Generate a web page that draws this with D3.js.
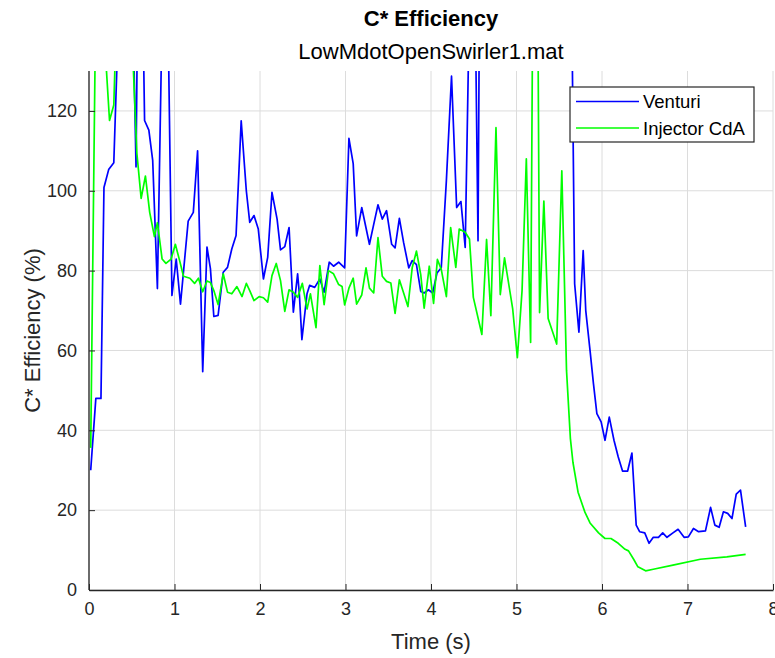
<!DOCTYPE html>
<html>
<head>
<meta charset="utf-8">
<script src="https://cdn.jsdelivr.net/npm/d3@7"></script>
<style>
  body { margin: 0; background: #fff; }
  svg { display: block; font-family: "Liberation Sans", Arial, Helvetica, sans-serif; }
</style>
</head>
<body>
<svg id="chart" width="775" height="658"></svg>
<script>
// ---- data ----
const venturiTime = [0.02,0.08,0.14,0.175,0.23,0.29,0.34,0.40,0.45,0.50,0.55,0.57,0.62,0.65,0.70,0.745,0.80,0.86,0.92,0.97,1.02,1.07,1.16,1.22,1.27,1.33,1.38,1.42,1.46,1.51,1.57,1.62,1.67,1.72,1.78,1.84,1.88,1.93,1.98,2.04,2.09,2.14,2.20,2.24,2.29,2.34,2.39,2.44,2.46,2.49,2.55,2.58,2.64,2.70,2.75,2.81,2.86,2.92,2.95,2.99,3.04,3.09,3.13,3.19,3.28,3.33,3.38,3.43,3.48,3.54,3.58,3.63,3.68,3.74,3.78,3.83,3.88,3.92,3.97,4.02,4.07,4.12,4.18,4.24,4.30,4.35,4.40,4.46,4.51,4.55,4.57,4.62,4.70,5.00,5.30,5.62,5.68,5.73,5.78,5.81,5.86,5.90,5.94,5.99,6.035,6.085,6.14,6.19,6.24,6.30,6.35,6.40,6.44,6.50,6.55,6.60,6.66,6.71,6.76,6.83,6.89,6.96,7.01,7.07,7.13,7.21,7.27,7.32,7.37,7.42,7.47,7.52,7.57,7.62,7.68];
const venturiEff = [30,48,48,100.8,105.3,107,140,180,200,160,106,150,160,117.6,115.2,107.6,75.5,150,150,73.8,82.9,71.6,92.4,94.6,110,54.7,85.9,80.5,68.5,68.8,79.6,80.8,85.4,88.8,117.5,100,92.1,93.8,90.4,77.9,83.3,99.6,92.9,85.2,86,90.8,69.6,79.2,74.2,62.7,74.2,76.3,75.8,77.9,74.6,82.1,81.1,82.1,81.5,80.7,113.1,106.8,88.7,95.8,86.6,91.6,96.5,92.9,95,86.6,85.7,93.1,87,80.7,82.5,81.5,74.8,74.4,75.2,74.4,79.4,80.7,102.6,128.7,95.8,97.3,85.8,160,160,87.5,160,200,250,300,300,200,76.7,64.6,85,70,60,51.7,44.2,42.1,37.5,43.3,37.5,33.3,29.8,29.8,34.3,16.25,14.6,14.3,11.7,13.2,13.2,14.3,13.2,14.3,15.2,13.2,13.3,15.4,14.6,14.8,20.7,16.25,15.7,19.6,19.2,17.9,24,25,15.8];

const injectorTime = [0.02,0.08,0.15,0.19,0.24,0.29,0.33,0.40,0.48,0.51,0.56,0.61,0.66,0.71,0.765,0.80,0.855,0.90,0.96,1.01,1.06,1.105,1.18,1.235,1.28,1.33,1.38,1.42,1.46,1.51,1.57,1.62,1.67,1.73,1.79,1.84,1.88,1.93,1.99,2.04,2.09,2.14,2.19,2.24,2.29,2.34,2.39,2.44,2.495,2.55,2.59,2.655,2.70,2.75,2.80,2.86,2.92,2.96,2.99,3.04,3.09,3.13,3.19,3.24,3.28,3.33,3.38,3.43,3.48,3.53,3.58,3.63,3.68,3.73,3.78,3.83,3.88,3.92,3.98,4.03,4.075,4.12,4.18,4.23,4.29,4.33,4.40,4.45,4.495,4.595,4.65,4.70,4.76,4.81,4.86,4.955,5.01,5.065,5.115,5.165,5.205,5.235,5.27,5.32,5.37,5.47,5.53,5.585,5.63,5.66,5.72,5.80,5.86,5.96,6.035,6.105,6.19,6.27,6.31,6.37,6.42,6.51,6.60,6.83,7.15,7.46,7.68];
const injectorEff = [35.6,150,150,135,117.6,121.5,150,200,180,135,109.4,98.1,103.7,94.6,88.5,92,82.9,81.8,82.9,86.6,82.5,78.6,78.1,76.8,78.1,74.7,77.4,77,75,71.5,79.2,74.6,74.2,76,73.5,76.8,75,72.5,73.5,73.2,72.1,78.75,81.8,77.5,69.8,75.2,74.6,73.3,76.8,70.4,74.2,65.7,81.25,71.5,80,79.2,76.5,76,71.4,75.6,78.1,71.6,73.9,80.7,75.6,74.4,88.3,78.6,77.3,76.9,69.3,77.7,74.4,71,80.7,84.9,79,70.6,81.1,71.8,82.8,80.3,73.5,90.8,80.8,90.4,89.6,87.9,73.3,64,87.8,68.7,115.8,74,83.2,70.5,58.2,75,108,62,200,200,69.5,97.4,68,61.6,105,55,38,32,24.5,19.5,16.8,14.3,12.9,12.9,11.7,10.2,9.8,7.7,5.8,4.8,5.2,6.25,7.7,8.3,8.9];

const xTicks = [0,1,2,3,4,5,6,7,8];
const yTicks = [0,20,40,60,80,100,120];
const seriesNames = ["Venturi", "Injector CdA"];
const seriesColors = ["#0000ff", "#00ff00"];

const titleText = "C* Efficiency";
const subtitleText = "LowMdotOpenSwirler1.mat";
const xLabelText = "Time (s)";
const yLabelText = "C* Efficiency (%)";

// ---- layout ----
const svg = d3.select("#chart");
const L = 89, R = 773, T = 71, B = 590;
const x = d3.scaleLinear().domain([0, 8]).range([L, R]);
const y = d3.scaleLinear().domain([0, 130]).range([B, T]);
const axisColor = "#262626";

// grid
const grid = svg.append("g");
grid.selectAll("line.gx").data(xTicks).join("line")
  .attr("x1", d => x(d)).attr("x2", d => x(d)).attr("y1", T).attr("y2", B)
  .attr("stroke", "#dcdcdc").attr("stroke-width", 1);
grid.selectAll("line.gy").data(yTicks).join("line")
  .attr("y1", d => y(d)).attr("y2", d => y(d)).attr("x1", L).attr("x2", R)
  .attr("stroke", "#dcdcdc").attr("stroke-width", 1);

// clip
svg.append("clipPath").attr("id", "clip").append("rect")
  .attr("x", L).attr("y", T).attr("width", R - L).attr("height", B - T);

const line = d3.line().x(d => x(d[0])).y(d => y(d[1]));
const plot = svg.append("g").attr("clip-path", "url(#clip)");
const venturi = d3.zip(venturiTime, venturiEff);
const injector = d3.zip(injectorTime, injectorEff);
plot.append("path").datum(venturi).attr("d", line)
  .attr("fill", "none").attr("stroke", seriesColors[0]).attr("stroke-width", 1.7).attr("stroke-linejoin", "round");
plot.append("path").datum(injector).attr("d", line)
  .attr("fill", "none").attr("stroke", seriesColors[1]).attr("stroke-width", 1.7).attr("stroke-linejoin", "round");

// axes
const xAxis = d3.axisBottom(x).tickValues(xTicks).tickSizeInner(-6).tickSizeOuter(0).tickPadding(12);
const yAxis = d3.axisLeft(y).tickValues(yTicks).tickSizeInner(-6).tickSizeOuter(0).tickPadding(12);
const gx = svg.append("g").attr("transform", `translate(0,${B})`).call(xAxis);
const gy = svg.append("g").attr("transform", `translate(${L},0)`).call(yAxis);
[gx, gy].forEach(g => {
  g.select(".domain").attr("stroke", axisColor).attr("stroke-width", 1.3);
  g.selectAll(".tick line").attr("stroke", axisColor).attr("stroke-width", 1);
  g.selectAll(".tick text").attr("fill", axisColor).style("font-size", "18px")
    .style("font-family", "'Liberation Sans', Arial, sans-serif");
});
gy.select(".domain").attr("d", `M0,${B}V${T}`);

// titles
svg.append("text").attr("x", (L + R) / 2).attr("y", 26).attr("text-anchor", "middle")
  .style("font-size", "22px").style("font-weight", "bold").attr("fill", "#000").text(titleText);
svg.append("text").attr("x", (L + R) / 2).attr("y", 59).attr("text-anchor", "middle")
  .style("font-size", "22px").attr("fill", "#000").text(subtitleText);
svg.append("text").attr("x", (L + R) / 2).attr("y", 649).attr("text-anchor", "middle")
  .style("font-size", "22px").attr("fill", axisColor).text(xLabelText);
svg.append("text").attr("transform", `translate(40,${(T + B) / 2}) rotate(-90)`).attr("text-anchor", "middle")
  .style("font-size", "22px").attr("fill", axisColor).text(yLabelText);

// legend
const lg = svg.append("g");
lg.append("rect").attr("x", 570).attr("y", 87).attr("width", 184).attr("height", 55)
  .attr("fill", "#fff").attr("stroke", axisColor).attr("stroke-width", 1.2);
seriesNames.forEach((name, i) => {
  const yy = 101.5 + i * 26.5;
  lg.append("line").attr("x1", 576).attr("x2", 639).attr("y1", yy).attr("y2", yy)
    .attr("stroke", seriesColors[i]).attr("stroke-width", 1.7);
  lg.append("text").attr("x", 643).attr("y", yy + 6.5).style("font-size", "18.5px")
    .attr("fill", "#000").text(name);
});
</script>
</body>
</html>
